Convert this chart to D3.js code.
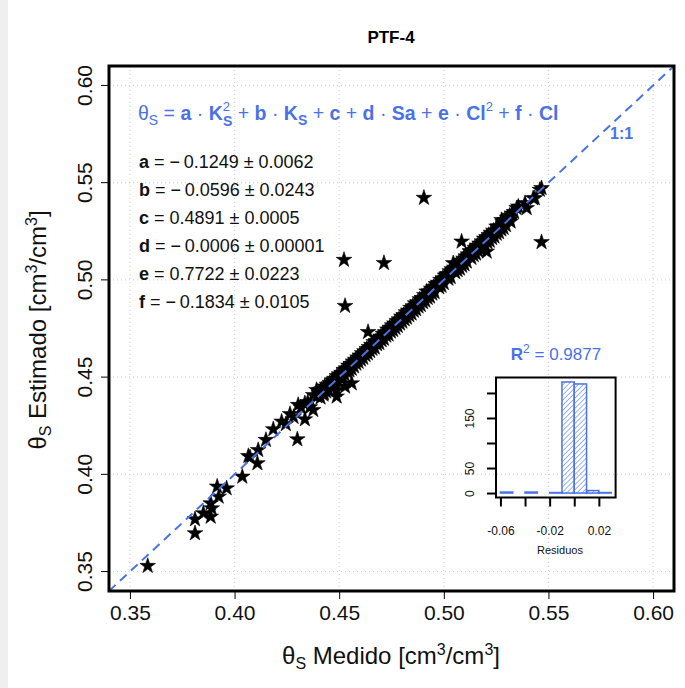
<!DOCTYPE html>
<html><head><meta charset="utf-8">
<script src="https://cdn.jsdelivr.net/npm/d3@7"></script>
<style>
body{margin:0;background:#fff;}
svg{display:block;font-family:"Liberation Sans",Arial,Helvetica,sans-serif;}
</style></head>
<body>
<svg id="chart" width="685" height="688"></svg>
<script>
// ---------------- data ----------------
const titulo = "PTF-4";
const ejeTicks = [0.35, 0.40, 0.45, 0.50, 0.55, 0.60];
const coefLetras = ["a", "b", "c", "d", "e", "f"];
const coefValores = ["= \u2212\u20090.1249 \u00b1 0.0062", "= \u2212\u20090.0596 \u00b1 0.0243", "= 0.4891 \u00b1 0.0005",
                     "= \u2212\u20090.0006 \u00b1 0.00001", "= 0.7722 \u00b1 0.0223", "= \u2212\u20090.1834 \u00b1 0.0105"];
const r2Texto = "0.9877";
// [medido, estimado]
const puntos = [
 [0.3585,0.3529],[0.3811,0.3697],[0.3811,0.3769],[0.3851,0.3800],[0.3886,0.3782],[0.3891,0.3825],
 [0.3886,0.3851],[0.3924,0.3885],[0.3917,0.3937],[0.3962,0.3928],[0.4037,0.3988],[0.4066,0.4094],
 [0.4074,0.4088],[0.4109,0.4057],[0.4113,0.4125],[0.4150,0.4177],[0.4185,0.4232],[0.4225,0.4271],
 [0.4265,0.4310],[0.4300,0.4180],[0.4304,0.4357],[0.4336,0.4283],[0.4336,0.4366],[0.4376,0.4331],
 [0.4376,0.4408],[0.4392,0.4434],[0.4245,0.4258],[0.4282,0.4295],[0.4318,0.4342],[0.4350,0.4372],
 [0.4360,0.4345],[0.4395,0.4401],[0.4412,0.4430],[0.4427,0.4418],
 // outliers
 [0.4905,0.5422],[0.4523,0.5103],[0.4714,0.5087],[0.4528,0.4866],[0.5467,0.5194],[0.4638,0.4732],
 [0.5085,0.5197],[0.5205,0.5145],[0.4488,0.4400],[0.4560,0.4468],[0.4488,0.4434],[0.4528,0.4451],
 // dense band
 [0.4402,0.4421],[0.4411,0.4395],[0.4418,0.4437],[0.4425,0.4410],[0.4431,0.4452],[0.4438,0.4426],
 [0.4442,0.4461],[0.4449,0.4437],[0.4455,0.4470],[0.4461,0.4448],[0.4466,0.4483],[0.4472,0.4462],
 [0.4478,0.4491],[0.4483,0.4471],[0.4489,0.4505],[0.4494,0.4480],[0.4500,0.4514],[0.4505,0.4494],
 [0.4511,0.4522],[0.4516,0.4500],[0.4522,0.4537],[0.4527,0.4512],[0.4533,0.4545],[0.4538,0.4527],
 [0.4544,0.4559],[0.4549,0.4535],[0.4555,0.4568],[0.4560,0.4543],[0.4566,0.4580],[0.4571,0.4555],
 [0.4577,0.4589],[0.4582,0.4569],[0.4588,0.4601],[0.4593,0.4578],[0.4599,0.4611],[0.4604,0.4590],
 [0.4610,0.4623],[0.4615,0.4599],[0.4621,0.4633],[0.4626,0.4613],[0.4632,0.4644],[0.4637,0.4622],
 [0.4643,0.4655],[0.4648,0.4634],[0.4654,0.4666],[0.4659,0.4645],[0.4665,0.4680],[0.4670,0.4652],
 [0.4676,0.4686],[0.4681,0.4669],[0.4687,0.4702],[0.4692,0.4675],[0.4698,0.4708],[0.4703,0.4689],
 [0.4709,0.4723],[0.4714,0.4697],[0.4720,0.4731],[0.4725,0.4713],[0.4731,0.4745],[0.4736,0.4719],
 [0.4742,0.4754],[0.4747,0.4734],[0.4753,0.4766],[0.4758,0.4742],[0.4764,0.4776],[0.4769,0.4753],
 [0.4775,0.4788],[0.4780,0.4763],[0.4786,0.4797],[0.4791,0.4775],[0.4797,0.4811],[0.4802,0.4785],
 [0.4808,0.4819],[0.4813,0.4797],[0.4819,0.4833],[0.4824,0.4806],[0.4830,0.4842],[0.4835,0.4818],
 [0.4841,0.4856],[0.4846,0.4827],[0.4852,0.4864],[0.4857,0.4841],[0.4863,0.4879],[0.4868,0.4849],
 [0.4874,0.4885],[0.4879,0.4863],[0.4885,0.4900],[0.4890,0.4871],[0.4896,0.4907],[0.4901,0.4885],
 [0.4907,0.4922],[0.4912,0.4893],[0.4918,0.4940],[0.4923,0.4907],[0.4929,0.4941],[0.4934,0.4914],
 [0.4940,0.4955],[0.4945,0.4929],[0.4951,0.4963],[0.4956,0.4937],[0.4962,0.4978],[0.4967,0.4974],
 [0.4973,0.4985],[0.4978,0.4962],[0.4984,0.5000],[0.4989,0.4969],[0.4995,0.5008],[0.5000,0.4984],
 [0.5006,0.5022],[0.5013,0.5026],[0.5017,0.5030],[0.5022,0.5006],[0.5028,0.5044],[0.5033,0.5014],
 [0.5039,0.5055],[0.5045,0.5086],[0.5050,0.5063],[0.5055,0.5039],[0.5061,0.5077],[0.5066,0.5050],
 [0.5072,0.5088],[0.5077,0.5058],[0.5083,0.5099],[0.5088,0.5072],[0.5094,0.5109],[0.5099,0.5080],
 [0.5105,0.5121],[0.5110,0.5094],[0.5116,0.5131],[0.5125,0.5148],[0.5127,0.5143],[0.5132,0.5113],
 [0.5138,0.5153],[0.5143,0.5127],[0.5149,0.5165],[0.5154,0.5135],[0.5160,0.5176],[0.5165,0.5149],
 [0.5171,0.5187],[0.5176,0.5157],[0.5182,0.5198],[0.5187,0.5171],[0.5193,0.5212],[0.5198,0.5179],
 [0.5204,0.5220],[0.5209,0.5193],[0.5215,0.5231],[0.5220,0.5201],[0.5226,0.5242],[0.5231,0.5215],
 [0.5237,0.5253],[0.5242,0.5223],[0.5252,0.5274],[0.5253,0.5237],[0.5259,0.5275],[0.5264,0.5245],
 [0.5276,0.5308],[0.5275,0.5259],[0.5281,0.5297],[0.5286,0.5267],[0.5292,0.5308],[0.5297,0.5281],
 [0.5303,0.5319],[0.5316,0.5308],[0.5314,0.5330],[0.5319,0.5300],[0.5325,0.5341],[0.5336,0.5349],
 [0.5348,0.5369],[0.5356,0.5377],[0.5396,0.5369],[0.5388,0.5395],[0.5427,0.5420],[0.5435,0.5420],
 [0.5459,0.5463],[0.5467,0.5472]
];
// histogram of residuals
const histBreaks = [-0.06, -0.05, -0.04, -0.03, -0.02, -0.01, 0.00, 0.01, 0.02, 0.03];
const histCounts = [2, 0, 2, 0, 1, 222, 218, 5, 1];
const histXTicks = [-0.06, -0.04, -0.02, 0.00, 0.02];
const histXLabels = ["-0.06", "", "-0.02", "", "0.02"];
const histYTicks = [0, 50, 100, 150, 200];
const histYLabels = ["0", "50", "", "150", ""];

// ---------------- drawing ----------------
const svg = d3.select("#chart");
const azul = "#4a72e6";
svg.append("rect").attr("x",0).attr("y",0).attr("width",8).attr("height",688).attr("fill","#efefef");

const x = d3.scaleLinear().domain([0.34, 0.61]).range([109, 674]);
const y = d3.scaleLinear().domain([0.34, 0.61]).range([591, 66]);

svg.append("defs").append("clipPath").attr("id","clip")
  .append("rect").attr("x",109).attr("y",66).attr("width",565).attr("height",525);

// grid
const grid = svg.append("g").attr("stroke","#cfcfcf").attr("stroke-width",1).attr("stroke-dasharray","1,3");
grid.selectAll(".gx").data(ejeTicks).join("line")
  .attr("x1",d=>x(d)).attr("x2",d=>x(d)).attr("y1",66).attr("y2",591);
grid.selectAll(".gy").data(ejeTicks).join("line")
  .attr("y1",d=>y(d)).attr("y2",d=>y(d)).attr("x1",109).attr("x2",674);

// axes
const xAxis = d3.axisBottom(x).tickValues(ejeTicks).tickFormat(d3.format(".2f")).tickSize(8).tickPadding(6);
const gx = svg.append("g").attr("transform","translate(0,591)").call(xAxis);
gx.select(".domain").remove();
gx.selectAll("line").attr("stroke","#000").attr("stroke-width",1);
gx.selectAll("text").attr("font-size",21).attr("fill","#111").attr("font-family","Liberation Sans, Arial, sans-serif");

const yAxis = d3.axisLeft(y).tickValues(ejeTicks).tickFormat(d3.format(".2f")).tickSize(8).tickPadding(0);
const gy = svg.append("g").attr("transform","translate(109,0)").call(yAxis);
gy.select(".domain").remove();
gy.selectAll("line").attr("stroke","#000").attr("stroke-width",1);
gy.selectAll("text").attr("font-size",21).attr("fill","#111").attr("font-family","Liberation Sans, Arial, sans-serif")
  .attr("text-anchor","middle").attr("dy",null).attr("x",null)
  .attr("transform",function(d){return `translate(-25,${y(d)}) rotate(-90)`;})
  .attr("dominant-baseline","central");
gy.selectAll(".tick").attr("transform",null);
gy.selectAll(".tick line").attr("y1",d=>y(d)).attr("y2",d=>y(d));

// points
const star = d3.symbol().type(d3.symbolStar).size(76);
svg.append("g").attr("clip-path","url(#clip)")
  .selectAll("path").data(puntos).join("path")
  .attr("d",star).attr("transform",d=>`translate(${x(d[0])},${y(d[1])})`)
  .attr("fill","#000").attr("stroke","#000").attr("stroke-width",0.6).attr("stroke-linejoin","round");

// 1:1 line
svg.append("line").attr("clip-path","url(#clip)")
  .attr("x1",x(0.34)).attr("y1",y(0.34)).attr("x2",x(0.61)).attr("y2",y(0.61))
  .attr("stroke",azul).attr("stroke-width",2).attr("stroke-dasharray","9,6");
svg.append("text").attr("x",610).attr("y",139).attr("fill",azul).attr("font-weight","bold").attr("font-size",16).text("1:1");

// box
svg.append("rect").attr("x",109).attr("y",66).attr("width",565).attr("height",525)
  .attr("fill","none").attr("stroke","#000").attr("stroke-width",3);

// title
svg.append("text").attr("x",391).attr("y",43).attr("text-anchor","middle").attr("font-weight","bold")
  .attr("font-size",17).text(titulo);

// axis titles
const xt = svg.append("text").attr("x",391).attr("y",664).attr("text-anchor","middle").attr("font-size",24).attr("fill","#111");
xt.append("tspan").text("\u03b8");
xt.append("tspan").attr("font-size",16).attr("dy",5).text("S");
xt.append("tspan").attr("dy",-5).text(" Medido [cm");
xt.append("tspan").attr("font-size",16).attr("dy",-9).text("3");
xt.append("tspan").attr("dy",9).text("/cm");
xt.append("tspan").attr("font-size",16).attr("dy",-9).text("3");
xt.append("tspan").attr("dy",9).text("]");

const yt = svg.append("text").attr("transform","translate(46,330) rotate(-90)").attr("text-anchor","middle").attr("font-size",24).attr("fill","#111");
yt.append("tspan").text("\u03b8");
yt.append("tspan").attr("font-size",16).attr("dy",5).text("S");
yt.append("tspan").attr("dy",-5).text(" Estimado [cm");
yt.append("tspan").attr("font-size",16).attr("dy",-9).text("3");
yt.append("tspan").attr("dy",9).text("/cm");
yt.append("tspan").attr("font-size",16).attr("dy",-9).text("3");
yt.append("tspan").attr("dy",9).text("]");

// equation
const eq = svg.append("text").attr("x",138).attr("y",120).attr("fill",azul).attr("font-size",19.5);
let cur = 0;
function part(t, opts={}){
  const ts = eq.append("tspan").text(t);
  const off = opts.off||0;
  if(off!==cur){ ts.attr("dy", off-cur); cur = off; }
  if(opts.b) ts.attr("font-weight","bold");
  if(opts.fs) ts.attr("font-size",opts.fs);
  if(opts.dx) ts.attr("dx",opts.dx);
  return ts;
}
part("\u03b8"); part("S",{off:5,fs:14}); part(" = ");
part("a",{b:1}); part(" \u00b7 "); part("K",{b:1}); part("2",{off:-9,fs:13}); part("S",{off:6,fs:14,b:1,dx:-7});
part(" + "); part("b",{b:1}); part(" \u00b7 "); part("K",{b:1}); part("S",{off:5,fs:14,b:1});
part(" + "); part("c",{b:1}); part(" + "); part("d",{b:1}); part(" \u00b7 "); part("Sa",{b:1});
part(" + "); part("e",{b:1}); part(" \u00b7 "); part("Cl",{b:1}); part("2",{off:-9,fs:13});
part(" + "); part("f",{b:1}); part(" \u00b7 "); part("Cl",{b:1});

// coefficients
const cf = svg.append("g").attr("font-size",18).attr("fill","#111");
coefLetras.forEach((l,i)=>{
  const t = cf.append("text").attr("x",139).attr("y",168+i*28);
  t.append("tspan").attr("font-weight","bold").text(l);
  t.append("tspan").text(" "+coefValores[i]);
});

// ---------- inset histogram ----------
const hx = d3.scaleLinear().domain([-0.0636, 0.0336]).range([496, 615.6]);
const hy = d3.scaleLinear().domain([-8.9, 230.9]).range([497.5, 377.5]);
const defs = svg.select("defs");
const pat = defs.append("pattern").attr("id","hatch").attr("patternUnits","userSpaceOnUse")
  .attr("width",3.6).attr("height",3.6).attr("patternTransform","rotate(45)");
pat.append("line").attr("x1",0).attr("y1",0).attr("x2",0).attr("y2",3.6).attr("stroke",azul).attr("stroke-width",1.1);

const bins = histCounts.map((c,i)=>({x0:histBreaks[i], x1:histBreaks[i+1], c}));
svg.append("g").selectAll("rect").data(bins).join("rect")
  .attr("x",d=>hx(d.x0)).attr("width",d=>hx(d.x1)-hx(d.x0))
  .attr("y",d=>hy(d.c)).attr("height",d=>Math.max(0,hy(0)-hy(d.c)))
  .attr("fill","url(#hatch)").attr("stroke",azul).attr("stroke-width",1.5);

svg.append("rect").attr("x",496).attr("y",377.5).attr("width",119.6).attr("height",120)
  .attr("fill","none").attr("stroke","#000").attr("stroke-width",2);

const hxa = svg.append("g").attr("transform","translate(0,497.5)")
  .call(d3.axisBottom(hx).tickValues(histXTicks).tickFormat((d,i)=>histXLabels[i]).tickSize(9).tickPadding(20));
hxa.select(".domain").remove();
hxa.selectAll("line").attr("stroke","#000").attr("stroke-width",2);
hxa.selectAll("text").attr("font-size",12).attr("fill","#111").attr("font-family","Liberation Sans, Arial, sans-serif");

const hya = svg.append("g").attr("transform","translate(496,0)")
  .call(d3.axisLeft(hy).tickValues(histYTicks).tickFormat((d,i)=>histYLabels[i]).tickSize(9).tickPadding(0));
hya.select(".domain").remove();
hya.selectAll("line").attr("stroke","#000").attr("stroke-width",2);
hya.selectAll("text").attr("font-size",12).attr("fill","#111").attr("font-family","Liberation Sans, Arial, sans-serif")
  .attr("x",null).attr("dy",null).attr("text-anchor","middle").attr("dominant-baseline","central")
  .attr("transform","translate(-26,0) rotate(-90)");

svg.append("text").attr("x",560).attr("y",554).attr("text-anchor","middle").attr("font-size",11).attr("fill","#111").text("Residuos");

const r2 = svg.append("text").attr("x",556).attr("y",360).attr("text-anchor","middle").attr("font-size",17).attr("fill",azul);
r2.append("tspan").attr("font-weight","bold").text("R");
r2.append("tspan").attr("font-size",12).attr("dy",-7).text("2");
r2.append("tspan").attr("dy",7).text(" = " + r2Texto);
</script>
</body></html>
